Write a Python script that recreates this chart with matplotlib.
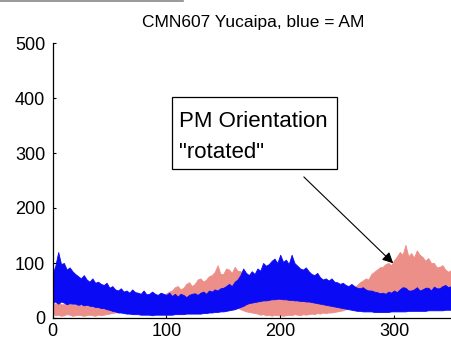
import numpy as np
import matplotlib
matplotlib.use('Agg')
import matplotlib.pyplot as plt
from matplotlib.patches import Rectangle
from matplotlib.lines import Line2D

# sample positions along the record (every 2.5 units, 0..350)
pos = [i * 2.5 for i in range(141)]

# AM (blue) trace: upper and lower extent of the band
am_top = [80, 95, 120, 98, 100, 88, 92, 85, 80, 76,
          72, 78, 70, 66, 72, 64, 66, 62, 60, 64,
          55, 58, 52, 50, 54, 48, 50, 46, 52, 47,
          46, 44, 50, 43, 44, 48, 44, 42, 46, 44,
          42, 46, 40, 44, 39, 44, 42, 38, 42, 44,
          45, 42, 46, 48, 44, 50, 48, 52, 50, 54,
          55, 58, 62, 58, 66, 70, 78, 90, 82, 78,
          85, 80, 90, 86, 100, 95, 98, 104, 108, 100,
          115, 102, 106, 98, 115, 100, 95, 90, 88, 92,
          85, 80, 78, 82, 74, 70, 72, 68, 72, 66,
          65, 62, 64, 60, 58, 62, 58, 55, 54, 56,
          52, 50, 50, 48, 47, 45, 46, 44, 48, 46,
          50, 47, 52, 56, 55, 50, 50, 52, 56, 50,
          52, 55, 55, 50, 57, 54, 54, 58, 60, 56,
          58]
am_bot = [28, 30, 26, 30, 28, 25, 27, 26, 26, 24,
          25, 23, 24, 22, 22, 20, 20, 18, 18, 16,
          15, 13, 12, 10, 10, 9, 8, 8, 7, 7,
          7, 6, 6, 6, 6, 5, 6, 6, 6, 6,
          6, 6, 6, 7, 7, 7, 7, 8, 8, 8,
          8, 8, 8, 9, 9, 10, 10, 11, 11, 12,
          12, 13, 14, 15, 16, 18, 20, 22, 25, 27,
          28, 29, 30, 31, 32, 32, 33, 34, 34, 35,
          35, 34, 34, 33, 33, 32, 32, 31, 31, 30,
          30, 29, 28, 27, 26, 25, 24, 23, 22, 21,
          20, 19, 18, 17, 16, 15, 14, 13, 13, 12,
          12, 12, 12, 11, 11, 11, 11, 11, 11, 12,
          12, 12, 12, 12, 12, 13, 13, 13, 13, 13,
          13, 13, 14, 14, 14, 14, 14, 14, 15, 15,
          15]

# PM (pink) trace
pm_top = [28, 26, 30, 25, 25, 28, 27, 24, 24, 26,
          22, 24, 22, 20, 22, 20, 20, 22, 18, 20,
          18, 20, 20, 22, 22, 24, 25, 26, 26, 27,
          28, 29, 30, 31, 32, 34, 35, 36, 38, 40,
          45, 48, 50, 56, 58, 52, 55, 62, 65, 58,
          62, 70, 72, 66, 70, 76, 78, 84, 96, 80,
          80, 90, 88, 82, 93, 86, 85, 80, 80, 76,
          70, 65, 60, 58, 55, 52, 50, 49, 48, 46,
          45, 44, 44, 43, 42, 41, 40, 39, 38, 37,
          36, 36, 35, 35, 35, 35, 35, 35, 36, 37,
          38, 40, 42, 45, 48, 52, 55, 60, 65, 68,
          72, 70, 80, 84, 88, 92, 93, 98, 100, 96,
          105, 112, 120, 115, 133, 112, 118, 110, 123, 115,
          111, 104, 109, 100, 100, 92, 93, 96, 88, 84,
          87]
pm_bot = [8, 5, 6, 4, 5, 7, 6, 4, 5, 6,
          5, 4, 5, 6, 5, 4, 6, 5, 6, 7,
          8, 9, 10, 11, 12, 13, 14, 14, 15, 15,
          16, 16, 17, 17, 18, 19, 20, 21, 22, 23,
          24, 25, 26, 27, 28, 29, 30, 31, 32, 33,
          34, 34, 35, 35, 36, 36, 36, 36, 35, 34,
          32, 30, 28, 25, 22, 19, 16, 14, 12, 11,
          10, 9, 8, 6, 7, 5, 6, 4, 6, 5,
          5, 4, 5, 6, 5, 7, 6, 5, 7, 6,
          7, 8, 7, 9, 8, 10, 9, 10, 10, 11,
          12, 13, 14, 16, 18, 21, 24, 27, 30, 32,
          34, 36, 38, 39, 40, 41, 42, 43, 44, 44,
          45, 45, 46, 47, 48, 48, 48, 48, 48, 48,
          47, 47, 46, 46, 45, 45, 44, 44, 44, 44,
          44]

xticks = [0, 100, 200, 300]
yticks = [0, 100, 200, 300, 400, 500]

pink = '#EC8F88'
blue = '#0A0AF5'
plt.rcParams['font.family'] = ['Liberation Sans', 'DejaVu Sans']

fig = plt.figure(figsize=(4.51, 3.41), dpi=100)
ax = fig.add_axes([52.5 / 451, 23 / 341, 1 - 52.5 / 451, 275 / 341])

ax.fill_between(pos, pm_bot, pm_top, color=pink, lw=0.6, edgecolor=pink)
ax.fill_between(pos, am_bot, am_top, color=blue, lw=0.6, edgecolor=blue)

ax.set_xlim(0, 350)
ax.set_ylim(0, 500)
ax.set_xticks(xticks)
ax.set_yticks(yticks)
ax.tick_params(direction='in', length=2.5, width=0.8, labelsize=13)
ax.tick_params(axis='x', pad=3.6)
ax.tick_params(axis='y', pad=5.2)
for s in ['top', 'right']:
    ax.spines[s].set_visible(False)
for s in ['left', 'bottom']:
    ax.spines[s].set_linewidth(0.9)

fig.text(253 / 451, 1 - 27 / 341, 'CMN607 Yucaipa, blue = AM',
         ha='center', va='baseline', fontsize=12.5)

# annotation box with arrow
ax.add_patch(Rectangle((105, 271), 145, 131, facecolor='white',
                       edgecolor='black', lw=0.9, zorder=5))
ax.text(111, 347, 'PM Orientation', fontsize=16, va='baseline', zorder=6)
ax.text(111, 291, '"rotated"', fontsize=16, va='baseline', zorder=6)
ax.annotate('', xy=(301, 96), xytext=(219, 260),
            arrowprops=dict(arrowstyle='-|>', color='black', lw=0.8,
                            mutation_scale=16), zorder=6)

fig.add_artist(Line2D([0, 183 / 451], [1 - 0.5 / 341, 1 - 0.5 / 341],
                      color='#888888', lw=1.2))

fig.savefig('out.png', dpi=100)
